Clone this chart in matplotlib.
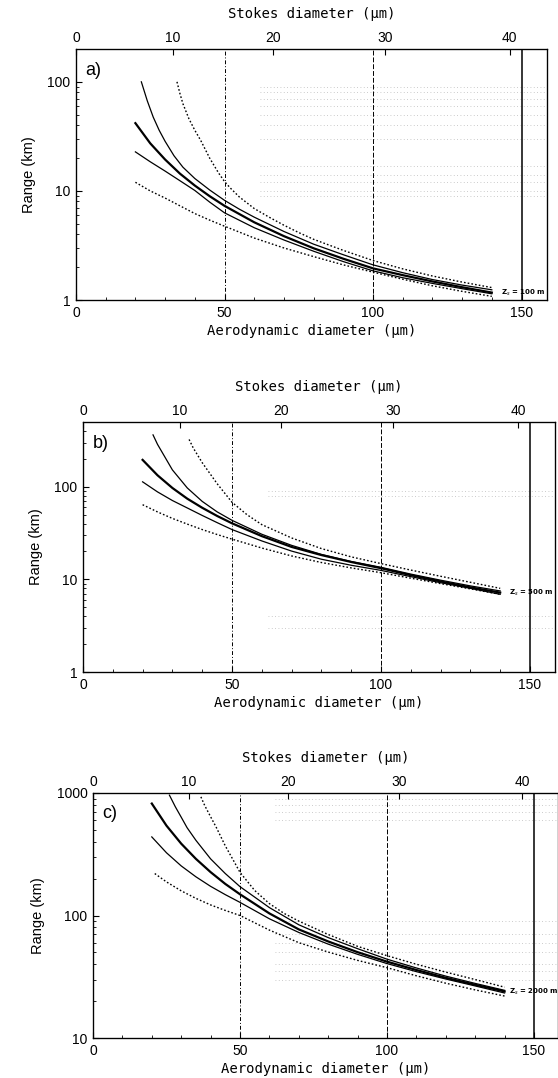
import numpy as np
import matplotlib.pyplot as plt
from matplotlib.ticker import LogLocator, NullFormatter, MultipleLocator

# aerodynamic diameter (um) sample points
d_a = [20, 25, 30, 35, 40, 45, 50, 60, 70, 80, 90, 100, 110, 120, 130, 140]

# panel a) Zs = 100 m, range (km)
a_thick = [41.8, 27.3, 19.4, 14.4, 11.2, 8.95, 7.3, 5.16, 3.85, 2.98, 2.39, 1.95, 1.69, 1.48, 1.31, 1.17]
a_lo_solid = [22.8, 18.5, 15.2, 12.4, 10.1, 7.9, 6.3, 4.6, 3.55, 2.8, 2.25, 1.85, 1.6, 1.42, 1.27, 1.14]
a_lo_dot = [12.0, 10.0, 8.6, 7.3, 6.2, 5.4, 4.75, 3.7, 3.0, 2.5, 2.1, 1.8, 1.55, 1.35, 1.2, 1.08]
a_up_solid_x = [22, 24, 26, 28, 30, 33, 36, 40, 45, 50, 55, 60, 70, 80, 90, 100, 110, 120, 130, 140]
a_up_solid = [100, 67, 47.5, 36, 28.5, 21, 16.5, 13.0, 10.2, 8.2, 6.8, 5.75, 4.25, 3.25, 2.6, 2.1, 1.78, 1.54, 1.37, 1.24]
a_up_dot_x = [34, 35, 36, 38, 40, 42, 45, 48, 50, 52, 55, 60, 65, 70, 75, 80, 90, 100, 110, 120, 130, 140]
a_up_dot = [100, 78, 63, 46, 36, 29, 20, 14.6, 12.2, 10.6, 8.8, 6.9, 5.75, 4.85, 4.15, 3.6, 2.85, 2.3, 1.93, 1.66, 1.46, 1.3]

# panel b) Zs = 500 m
b_thick = [195, 133, 97, 74.3, 59.3, 48.4, 40.3, 29.3, 22.4, 18.3, 15.4, 13.2, 11.1, 9.5, 8.2, 7.2]
b_lo_solid = [113, 88, 71, 59, 49, 41, 34.5, 26, 20.2, 16.5, 14.2, 12.5, 10.7, 9.2, 8.0, 6.9]
b_lo_dot = [64, 53.5, 45.5, 39.5, 34.5, 30.5, 27.2, 21.8, 17.9, 15.2, 13.3, 11.8, 10.3, 9.0, 7.9, 6.9]
b_up_solid_x = [23.5, 25, 30, 35, 40, 45, 50, 60, 70, 80, 90, 100, 110, 120, 130, 140]
b_up_solid = [363, 287, 152, 97, 69.5, 53.6, 43.4, 30.7, 23.3, 18.6, 15.6, 13.5, 11.4, 9.8, 8.5, 7.5]
b_up_dot_x = [35.6, 37, 40, 45, 50, 55, 60, 70, 80, 90, 100, 110, 120, 130, 140]
b_up_dot = [324, 262, 182, 108, 68, 50, 39, 28, 21.5, 17.5, 14.8, 12.6, 10.8, 9.3, 8.0]

# panel c) Zs = 2000 m
c_thick = [820, 541, 386, 290, 226, 181, 149, 104, 77, 61.4, 50.2, 42, 35.9, 31, 27.2, 24]
c_lo_solid = [438, 325, 254, 207, 173, 148, 128, 94, 72.7, 58.4, 48.2, 40.5, 34.8, 30.3, 26.6, 23.3]
c_lo_dot_x = [21, 25, 30, 35, 40, 45, 50, 60, 70, 80, 90, 100, 110, 120, 130, 140]
c_lo_dot = [220, 188, 159, 138, 122, 110, 100, 76, 60, 50.3, 43, 37.5, 32.2, 28, 24.7, 22]
c_up_solid_x = [26, 28, 30, 32, 35, 40, 45, 50, 60, 70, 80, 90, 100, 110, 120, 130, 140]
c_up_solid = [960, 772, 635, 521, 411, 290, 220, 172, 116, 84, 66, 53.6, 44, 37.3, 32, 27.9, 24.5]
c_up_dot_x = [36.7, 38, 40, 42, 45, 48, 50, 55, 60, 65, 70, 80, 90, 100, 110, 120, 130, 140]
c_up_dot = [930, 790, 640, 520, 370, 275, 225, 160, 125, 104, 90, 70, 56, 47, 40, 34.5, 30, 26]

# top axis: Stokes diameter ticks and where they fall on the aerodynamic scale
stokes_labels = ['0', '10', '20', '30', '40']
stokes_pos = [0, 32.5, 66.3, 104, 146]

zs_labels = ['100 m', '500 m', '2000 m']
panel_names = ['a)', 'b)', 'c)']
ylims = [(1, 200), (1, 500), (10, 1000)]
yticks = [[1, 10, 100], [1, 10, 100], [10, 100, 1000]]

# faint dotted horizontal rulings seen in the scan (range values, km)
faint_a = [30, 40, 50, 60, 70, 80, 90, 9, 10, 12, 14, 17]
faint_b = [80, 90, 3, 4]
faint_c = [600, 700, 800, 900, 30, 35, 40, 50, 60, 70, 90]

# axes rectangles in pixels: left, top, right, bottom
W, H = 558, 1078
rects = [(76, 49, 547, 300), (83, 422, 555, 672), (93, 793, 558, 1038)]
px_per_um = [2.97, 2.98, 2.94]
zs_x = [143, 143, 141.5]

panels = [
    (a_up_dot_x, a_up_dot, a_up_solid_x, a_up_solid, a_thick, a_lo_solid, a_lo_dot, d_a, faint_a),
    (b_up_dot_x, b_up_dot, b_up_solid_x, b_up_solid, b_thick, b_lo_solid, b_lo_dot, d_a, faint_b),
    (c_up_dot_x, c_up_dot, c_up_solid_x, c_up_solid, c_thick, c_lo_solid, c_lo_dot, c_lo_dot_x, faint_c),
]

mono = 'DejaVu Sans Mono'
sans = 'Liberation Sans'

fig = plt.figure(figsize=(W / 100, H / 100), dpi=100)

for i, p in enumerate(panels):
    l, t, r, b = rects[i]
    ax = fig.add_axes([l / W, 1 - b / H, (r - l) / W, (b - t) / H])
    xmax = (r - l) / px_per_um[i]
    up_dot_x, up_dot, up_sol_x, up_sol, thick, lo_sol, lo_dot, lo_dot_x, faint = p

    for v in faint:
        ax.hlines(v, 62, xmax, colors='0.55', linestyles=(0, (1, 3)), linewidth=0.6, alpha=0.6)

    ax.axvline(50, color='k', linestyle=(0, (4, 2, 1, 2)), linewidth=0.7)
    ax.axvline(100, color='k', linestyle=(0, (5, 2)), linewidth=0.7)
    ax.axvline(150, color='k', linestyle='-', linewidth=1.1)

    ax.plot(up_dot_x, up_dot, color='k', linestyle=(0, (1.2, 1.5)), linewidth=1.0)
    ax.plot(up_sol_x, up_sol, color='k', linewidth=0.9)
    ax.plot(d_a, thick, color='k', linewidth=1.6)
    ax.plot(d_a, lo_sol, color='k', linewidth=0.9)
    ax.plot(lo_dot_x, lo_dot, color='k', linestyle=(0, (1.2, 1.5)), linewidth=1.0)

    ax.set_yscale('log')
    ax.set_ylim(*ylims[i])
    ax.set_xlim(0, xmax)
    ax.set_yticks(yticks[i])
    ax.set_yticklabels([str(v) for v in yticks[i]], fontfamily=sans, fontsize=10)
    ax.yaxis.set_minor_locator(LogLocator(base=10, subs=np.arange(2, 10)))
    ax.yaxis.set_minor_formatter(NullFormatter())
    ax.set_xticks([0, 50, 100, 150])
    ax.set_xticklabels(['0', '50', '100', '150'], fontfamily=sans, fontsize=10)
    ax.xaxis.set_minor_locator(MultipleLocator(10))
    ax.tick_params(which='both', direction='in', top=False, right=False)
    ax.tick_params(which='major', length=4, width=0.8, pad=4)
    ax.tick_params(which='minor', length=2, width=0.6)
    for s in ax.spines.values():
        s.set_linewidth(0.9)

    ax.set_xlabel('Aerodynamic diameter (μm)', fontfamily=mono, fontsize=10, labelpad=3)
    ax.set_ylabel('Range (km)', fontfamily=sans, fontsize=10.5, labelpad=8)

    ax.text(0.02, 0.95, panel_names[i], transform=ax.transAxes, fontsize=13,
            fontfamily=sans, va='top', ha='left')
    ax.text(zs_x[i], thick[-1], r'Z$_s$ = ' + zs_labels[i], fontsize=5, fontweight='bold',
            va='center', ha='left')

    top = ax.twiny()
    top.set_xlim(ax.get_xlim())
    top.set_xticks(stokes_pos)
    top.set_xticklabels(stokes_labels, fontfamily=sans, fontsize=10)
    top.tick_params(direction='in', length=4, width=0.8, pad=3)
    top.set_xlabel('Stokes diameter (μm)', fontfamily=mono, fontsize=10, labelpad=9)

fig.savefig('out.png', dpi=100)
